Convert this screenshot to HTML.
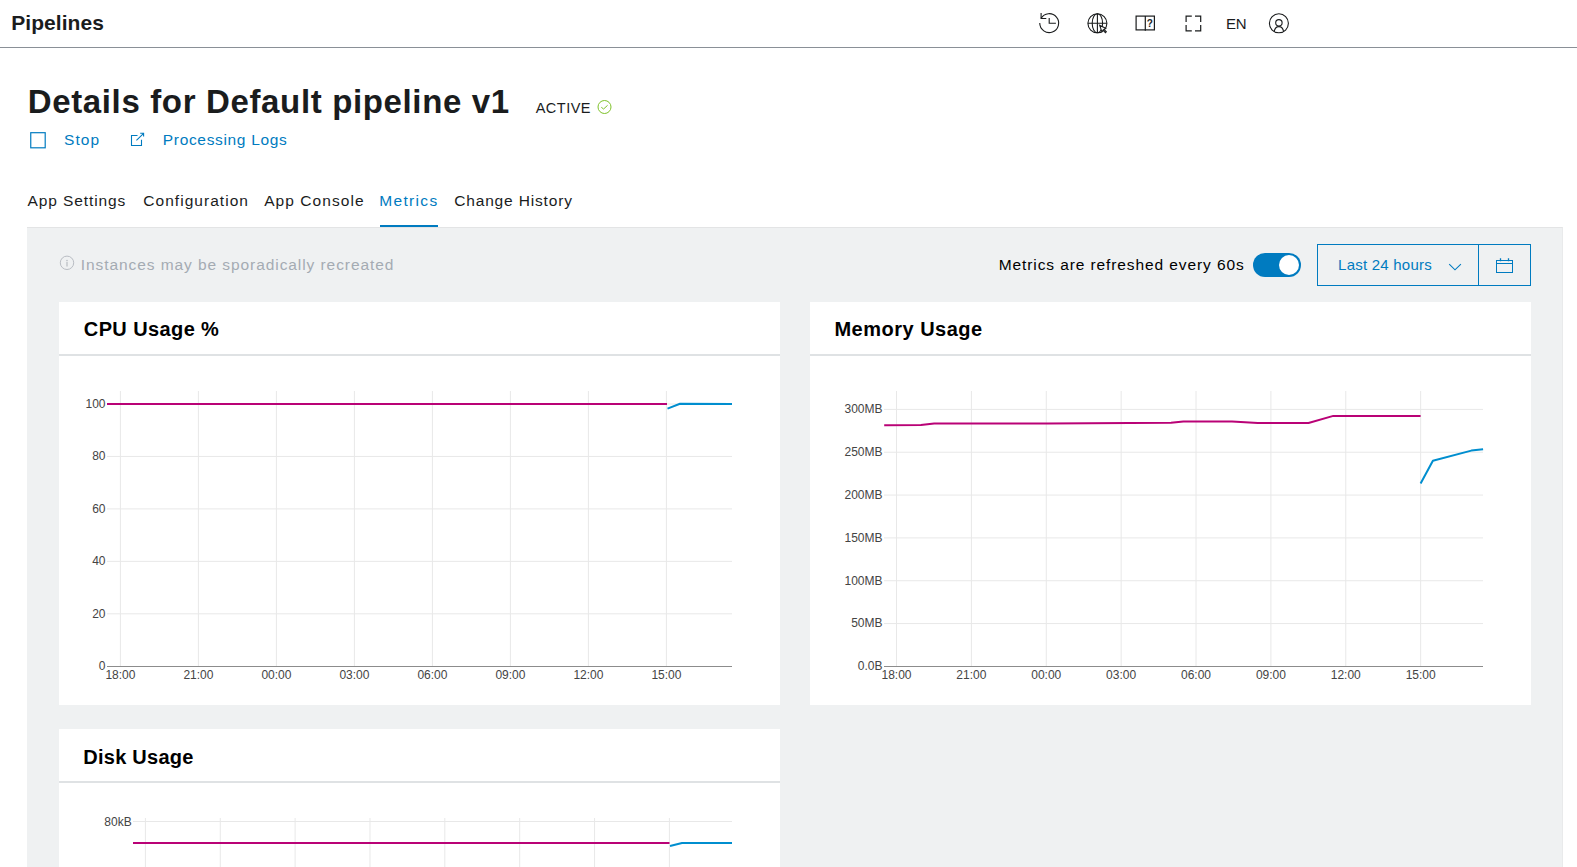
<!DOCTYPE html>
<html><head><meta charset="utf-8"><style>
html,body{margin:0;padding:0;width:1577px;height:867px;overflow:hidden;background:#fff;font-family:"Liberation Sans",sans-serif}
.t{position:absolute;white-space:nowrap;font-family:"Liberation Sans",sans-serif}
.ic{position:absolute;overflow:visible}
.box{position:absolute}
.al{font-family:"Liberation Sans",sans-serif;font-size:12px;fill:#444}
</style></head><body>
<div class="box" style="left:0;top:47px;width:1577px;height:1px;background:#8a9097"></div>
<div class="box" style="left:27px;top:227px;width:1535px;height:640px;background:#eff1f2;border-top:1px solid #e3e4e5;border-right:1px solid #e9eaeb"></div>
<div class="box" style="left:380px;top:225px;width:58px;height:2px;background:#007bc0"></div>
<div class="box" style="left:59px;top:302px;width:721px;height:403px;background:#fff"></div>
<div class="box" style="left:59px;top:354px;width:721px;height:2px;background:#dfe2e4"></div>
<div class="box" style="left:810px;top:302px;width:721px;height:403px;background:#fff"></div>
<div class="box" style="left:810px;top:354px;width:721px;height:2px;background:#dfe2e4"></div>
<div class="box" style="left:59px;top:729px;width:721px;height:138px;background:#fff"></div>
<div class="box" style="left:59px;top:781px;width:721px;height:2px;background:#dfe2e4"></div>
<svg style="position:absolute;left:0;top:0" width="1577" height="867">
<line x1="120.40" y1="391" x2="120.40" y2="666.5" stroke="#e8e8e8" stroke-width="1"/>
<line x1="198.40" y1="391" x2="198.40" y2="666.5" stroke="#e8e8e8" stroke-width="1"/>
<line x1="276.40" y1="391" x2="276.40" y2="666.5" stroke="#e8e8e8" stroke-width="1"/>
<line x1="354.40" y1="391" x2="354.40" y2="666.5" stroke="#e8e8e8" stroke-width="1"/>
<line x1="432.40" y1="391" x2="432.40" y2="666.5" stroke="#e8e8e8" stroke-width="1"/>
<line x1="510.40" y1="391" x2="510.40" y2="666.5" stroke="#e8e8e8" stroke-width="1"/>
<line x1="588.40" y1="391" x2="588.40" y2="666.5" stroke="#e8e8e8" stroke-width="1"/>
<line x1="666.40" y1="391" x2="666.40" y2="666.5" stroke="#e8e8e8" stroke-width="1"/>
<line x1="107" y1="404.00" x2="732" y2="404.00" stroke="#e8e8e8" stroke-width="1"/>
<line x1="107" y1="456.45" x2="732" y2="456.45" stroke="#e8e8e8" stroke-width="1"/>
<line x1="107" y1="508.90" x2="732" y2="508.90" stroke="#e8e8e8" stroke-width="1"/>
<line x1="107" y1="561.35" x2="732" y2="561.35" stroke="#e8e8e8" stroke-width="1"/>
<line x1="107" y1="613.80" x2="732" y2="613.80" stroke="#e8e8e8" stroke-width="1"/>
<line x1="107" y1="666.5" x2="732" y2="666.5" stroke="#8c8c8c" stroke-width="1"/>
<polyline points="107.00,404.00 667.00,404.00" fill="none" stroke="#b90276" stroke-width="2" stroke-linejoin="round"/>
<polyline points="667.50,408.60 680.00,403.80 732.00,404.00" fill="none" stroke="#008ecf" stroke-width="2" stroke-linejoin="round"/>
<text x="105.5" y="407.90" text-anchor="end" class="al">100</text>
<text x="105.5" y="460.35" text-anchor="end" class="al">80</text>
<text x="105.5" y="512.80" text-anchor="end" class="al">60</text>
<text x="105.5" y="565.25" text-anchor="end" class="al">40</text>
<text x="105.5" y="617.70" text-anchor="end" class="al">20</text>
<text x="105.5" y="670.10" text-anchor="end" class="al">0</text>
<text x="120.40" y="679" text-anchor="middle" class="al">18:00</text>
<text x="198.40" y="679" text-anchor="middle" class="al">21:00</text>
<text x="276.40" y="679" text-anchor="middle" class="al">00:00</text>
<text x="354.40" y="679" text-anchor="middle" class="al">03:00</text>
<text x="432.40" y="679" text-anchor="middle" class="al">06:00</text>
<text x="510.40" y="679" text-anchor="middle" class="al">09:00</text>
<text x="588.40" y="679" text-anchor="middle" class="al">12:00</text>
<text x="666.40" y="679" text-anchor="middle" class="al">15:00</text>
<line x1="896.50" y1="391" x2="896.50" y2="666.5" stroke="#e8e8e8" stroke-width="1"/>
<line x1="971.38" y1="391" x2="971.38" y2="666.5" stroke="#e8e8e8" stroke-width="1"/>
<line x1="1046.26" y1="391" x2="1046.26" y2="666.5" stroke="#e8e8e8" stroke-width="1"/>
<line x1="1121.14" y1="391" x2="1121.14" y2="666.5" stroke="#e8e8e8" stroke-width="1"/>
<line x1="1196.02" y1="391" x2="1196.02" y2="666.5" stroke="#e8e8e8" stroke-width="1"/>
<line x1="1270.90" y1="391" x2="1270.90" y2="666.5" stroke="#e8e8e8" stroke-width="1"/>
<line x1="1345.78" y1="391" x2="1345.78" y2="666.5" stroke="#e8e8e8" stroke-width="1"/>
<line x1="1420.66" y1="391" x2="1420.66" y2="666.5" stroke="#e8e8e8" stroke-width="1"/>
<line x1="884" y1="409.40" x2="1483" y2="409.40" stroke="#e8e8e8" stroke-width="1"/>
<line x1="884" y1="452.23" x2="1483" y2="452.23" stroke="#e8e8e8" stroke-width="1"/>
<line x1="884" y1="495.06" x2="1483" y2="495.06" stroke="#e8e8e8" stroke-width="1"/>
<line x1="884" y1="537.89" x2="1483" y2="537.89" stroke="#e8e8e8" stroke-width="1"/>
<line x1="884" y1="580.72" x2="1483" y2="580.72" stroke="#e8e8e8" stroke-width="1"/>
<line x1="884" y1="623.55" x2="1483" y2="623.55" stroke="#e8e8e8" stroke-width="1"/>
<line x1="884" y1="666.5" x2="1483" y2="666.5" stroke="#8c8c8c" stroke-width="1"/>
<polyline points="884.20,425.30 920.90,425.10 934.20,423.60 1047.40,423.60 1171.00,422.80 1183.40,421.50 1232.00,421.50 1245.00,422.20 1257.80,423.00 1308.50,423.00 1333.30,415.90 1420.60,415.90" fill="none" stroke="#b90276" stroke-width="2" stroke-linejoin="round"/>
<polyline points="1420.60,483.40 1432.90,460.80 1471.30,450.60 1483.10,449.30" fill="none" stroke="#008ecf" stroke-width="2" stroke-linejoin="round"/>
<text x="882.5" y="413.30" text-anchor="end" class="al">300MB</text>
<text x="882.5" y="456.13" text-anchor="end" class="al">250MB</text>
<text x="882.5" y="498.96" text-anchor="end" class="al">200MB</text>
<text x="882.5" y="541.79" text-anchor="end" class="al">150MB</text>
<text x="882.5" y="584.62" text-anchor="end" class="al">100MB</text>
<text x="882.5" y="627.45" text-anchor="end" class="al">50MB</text>
<text x="882.5" y="670.10" text-anchor="end" class="al">0.0B</text>
<text x="896.50" y="679" text-anchor="middle" class="al">18:00</text>
<text x="971.38" y="679" text-anchor="middle" class="al">21:00</text>
<text x="1046.26" y="679" text-anchor="middle" class="al">00:00</text>
<text x="1121.14" y="679" text-anchor="middle" class="al">03:00</text>
<text x="1196.02" y="679" text-anchor="middle" class="al">06:00</text>
<text x="1270.90" y="679" text-anchor="middle" class="al">09:00</text>
<text x="1345.78" y="679" text-anchor="middle" class="al">12:00</text>
<text x="1420.66" y="679" text-anchor="middle" class="al">15:00</text>
<line x1="145.40" y1="818" x2="145.40" y2="867" stroke="#e8e8e8" stroke-width="1"/>
<line x1="220.26" y1="818" x2="220.26" y2="867" stroke="#e8e8e8" stroke-width="1"/>
<line x1="295.12" y1="818" x2="295.12" y2="867" stroke="#e8e8e8" stroke-width="1"/>
<line x1="369.98" y1="818" x2="369.98" y2="867" stroke="#e8e8e8" stroke-width="1"/>
<line x1="444.84" y1="818" x2="444.84" y2="867" stroke="#e8e8e8" stroke-width="1"/>
<line x1="519.70" y1="818" x2="519.70" y2="867" stroke="#e8e8e8" stroke-width="1"/>
<line x1="594.56" y1="818" x2="594.56" y2="867" stroke="#e8e8e8" stroke-width="1"/>
<line x1="669.42" y1="818" x2="669.42" y2="867" stroke="#e8e8e8" stroke-width="1"/>
<line x1="133" y1="821.5" x2="732" y2="821.5" stroke="#e8e8e8" stroke-width="1"/>
<polyline points="133,843 669.5,843" fill="none" stroke="#b90276" stroke-width="2"/>
<polyline points="670,846 682,843 732,843" fill="none" stroke="#008ecf" stroke-width="2" stroke-linejoin="round"/>
<text x="131.7" y="825.7" text-anchor="end" class="al">80kB</text>
</svg>

<!-- history -->
<svg class="ic" style="left:1037px;top:11px" width="24" height="24" viewBox="0 0 24 24" fill="none" stroke="#1a1c1d" stroke-width="1.1">
  <path d="M2.75 12.10 A9.45 9.45 0 1 0 4.02 7.38"/>
  <path d="M4.1 2.1 V7.5 H9.3"/>
  <path d="M12.2 7.1 V12.3 H18.9"/>
</svg>
<!-- globe -->
<svg class="ic" style="left:1085px;top:11px" width="24" height="24" viewBox="0 0 24 24" fill="none" stroke="#1a1c1d" stroke-width="1.1">
  <circle cx="12.4" cy="12.3" r="9.5"/>
  <ellipse cx="12.4" cy="12.3" rx="5.2" ry="9.5"/>
  <path d="M12.4 2.8 V21.8 M2.9 12.3 H21.9"/>
  <path d="M14.7 14.4 L16.9 20.9 L18.1 19.2 L20.4 21.6 L21.3 20.7 L19 18.4 L20.8 17.3 Z" fill="#fff" stroke-width="1.1" stroke-linejoin="miter"/>
</svg>
<!-- book -->
<svg class="ic" style="left:1133px;top:11px" width="24" height="24" viewBox="0 0 24 24" fill="none" stroke="#1a1c1d" stroke-width="1.2">
  <rect x="3.1" y="5.1" width="18.3" height="13.8"/>
  <path d="M12.3 5 V19.8"/>
  <text x="16.9" y="16" font-size="10" font-family="Liberation Sans" text-anchor="middle" fill="#1a1c1d" stroke="none" font-weight="bold">?</text>
</svg>
<!-- fullscreen -->
<svg class="ic" style="left:1181px;top:11px" width="24" height="24" viewBox="0 0 24 24" fill="none" stroke="#1a1c1d" stroke-width="1.2">
  <path d="M5.1 11 V5.2 H10.8 M14 5.2 H19.7 V11 M19.7 14 V19.9 H14 M10.8 19.9 H5.1 V14"/>
</svg>
<!-- user -->
<svg class="ic" style="left:1267px;top:11px" width="24" height="24" viewBox="0 0 24 24" fill="none" stroke="#1a1c1d" stroke-width="1.1">
  <circle cx="11.9" cy="12.3" r="9.5"/>
  <circle cx="11.9" cy="11.8" r="3.2"/>
  <path d="M7.2 20.8 C7.6 17.4, 9.5 15.6, 11.9 15.6 C14.3 15.6, 16.2 17.4, 16.6 20.8"/>
</svg>
<!-- active check -->
<svg class="ic" style="left:596px;top:99px" width="17" height="17" viewBox="0 0 17 17" fill="none" stroke="#78be20" stroke-width="0.95">
  <circle cx="8.5" cy="8" r="6.5"/>
  <path d="M5.3 8.3 L7.6 10 L11.6 6.3"/>
</svg>
<!-- stop checkbox -->
<svg class="ic" style="left:0;top:0" width="60" height="160"><rect x="30.75" y="132.7" width="14.45" height="15.1" fill="none" stroke="#007bc0" stroke-width="1.2"/></svg>
<!-- external link -->
<svg class="ic" style="left:128px;top:130px" width="18" height="18" viewBox="0 0 18 18" fill="none" stroke="#007bc0" stroke-width="1.1">
  <path d="M9.5 5.5 H3.5 V15.5 H13.5 V9.8"/>
  <path d="M8.4 10.4 L15.4 3.6 M12.2 3.2 H15.6 V6.6"/>
</svg>
<!-- info -->
<svg class="ic" style="left:59px;top:255px" width="16" height="16" viewBox="0 0 16 16" fill="none" stroke="#b2b7bd" stroke-width="0.9">
  <circle cx="8" cy="7.8" r="6.7"/>
  <path d="M8 6.8 V11.4" stroke-width="1.1"/>
  <circle cx="8" cy="5.4" r="0.6" fill="#a4abb3" stroke="none"/>
</svg>
<!-- toggle -->
<div style="position:absolute;left:1253px;top:253px;width:48px;height:24px;border-radius:12px;background:#007bc0"></div>
<div style="position:absolute;left:1279px;top:255px;width:20px;height:20px;border-radius:10px;background:#fff"></div>
<!-- dropdown -->
<div style="position:absolute;left:1317px;top:244px;width:212px;height:40px;border:1px solid #007bc0;box-sizing:content-box"></div>
<div style="position:absolute;left:1478px;top:244px;width:1px;height:42px;background:#007bc0"></div>
<svg class="ic" style="left:1444px;top:258px" width="22" height="16" viewBox="0 0 22 16" fill="none" stroke="#007bc0" stroke-width="1.1">
  <path d="M5.2 6.1 L11 11.8 L16.9 6.1"/>
</svg>
<svg class="ic" style="left:1492px;top:254px" width="26" height="24" viewBox="0 0 26 24" fill="none" stroke="#007bc0" stroke-width="1">
  <rect x="4.5" y="6.5" width="16" height="12"/>
  <path d="M4.5 9.5 H20.5"/>
  <path d="M8.5 4.3 V7.3 M16.5 4.3 V7.3" stroke-width="1.3"/>
</svg>

<div class="t" style="left:11.20px;top:12.02px;font-size:21px;line-height:21px;font-weight:bold;letter-spacing:0.060px;color:#1a1c1d">Pipelines</div>
<div class="t" style="left:1226.00px;top:15.60px;font-size:15px;line-height:15px;font-weight:normal;letter-spacing:-0.205px;color:#1a1c1d">EN</div>
<div class="t" style="left:27.70px;top:85.37px;font-size:33px;line-height:33px;font-weight:bold;letter-spacing:0.645px;color:#1a1c1d">Details for Default pipeline v1</div>
<div class="t" style="left:535.70px;top:100.83px;font-size:14.5px;line-height:14.5px;font-weight:normal;letter-spacing:0.480px;color:#1a1c1d">ACTIVE</div>
<div class="t" style="left:64.00px;top:131.98px;font-size:15.5px;line-height:15.5px;font-weight:normal;letter-spacing:1.112px;color:#007bc0">Stop</div>
<div class="t" style="left:162.80px;top:132.18px;font-size:15.5px;line-height:15.5px;font-weight:normal;letter-spacing:0.668px;color:#007bc0">Processing Logs</div>
<div class="t" style="left:27.60px;top:193.08px;font-size:15.5px;line-height:15.5px;font-weight:normal;letter-spacing:0.896px;color:#1a1c1d">App Settings</div>
<div class="t" style="left:143.30px;top:193.08px;font-size:15.5px;line-height:15.5px;font-weight:normal;letter-spacing:1.035px;color:#1a1c1d">Configuration</div>
<div class="t" style="left:264.20px;top:193.08px;font-size:15.5px;line-height:15.5px;font-weight:normal;letter-spacing:1.067px;color:#1a1c1d">App Console</div>
<div class="t" style="left:379.30px;top:193.08px;font-size:15.5px;line-height:15.5px;font-weight:normal;letter-spacing:1.318px;color:#007bc0">Metrics</div>
<div class="t" style="left:454.20px;top:193.08px;font-size:15.5px;line-height:15.5px;font-weight:normal;letter-spacing:0.840px;color:#1a1c1d">Change History</div>
<div class="t" style="left:80.80px;top:257.38px;font-size:15.5px;line-height:15.5px;font-weight:normal;letter-spacing:0.926px;color:#a4abb3">Instances may be sporadically recreated</div>
<div class="t" style="left:998.70px;top:257.28px;font-size:15.5px;line-height:15.5px;font-weight:normal;letter-spacing:0.903px;color:#000">Metrics are refreshed every 60s</div>
<div class="t" style="left:1338.10px;top:256.80px;font-size:15px;line-height:15px;font-weight:normal;letter-spacing:0.226px;color:#007bc0">Last 24 hours</div>
<div class="t" style="left:83.80px;top:319.47px;font-size:20px;line-height:20px;font-weight:bold;letter-spacing:0.393px;color:#000">CPU Usage %</div>
<div class="t" style="left:834.40px;top:318.97px;font-size:20px;line-height:20px;font-weight:bold;letter-spacing:0.504px;color:#000">Memory Usage</div>
<div class="t" style="left:83.30px;top:747.27px;font-size:20px;line-height:20px;font-weight:bold;letter-spacing:0.255px;color:#000">Disk Usage</div>
</body></html>
